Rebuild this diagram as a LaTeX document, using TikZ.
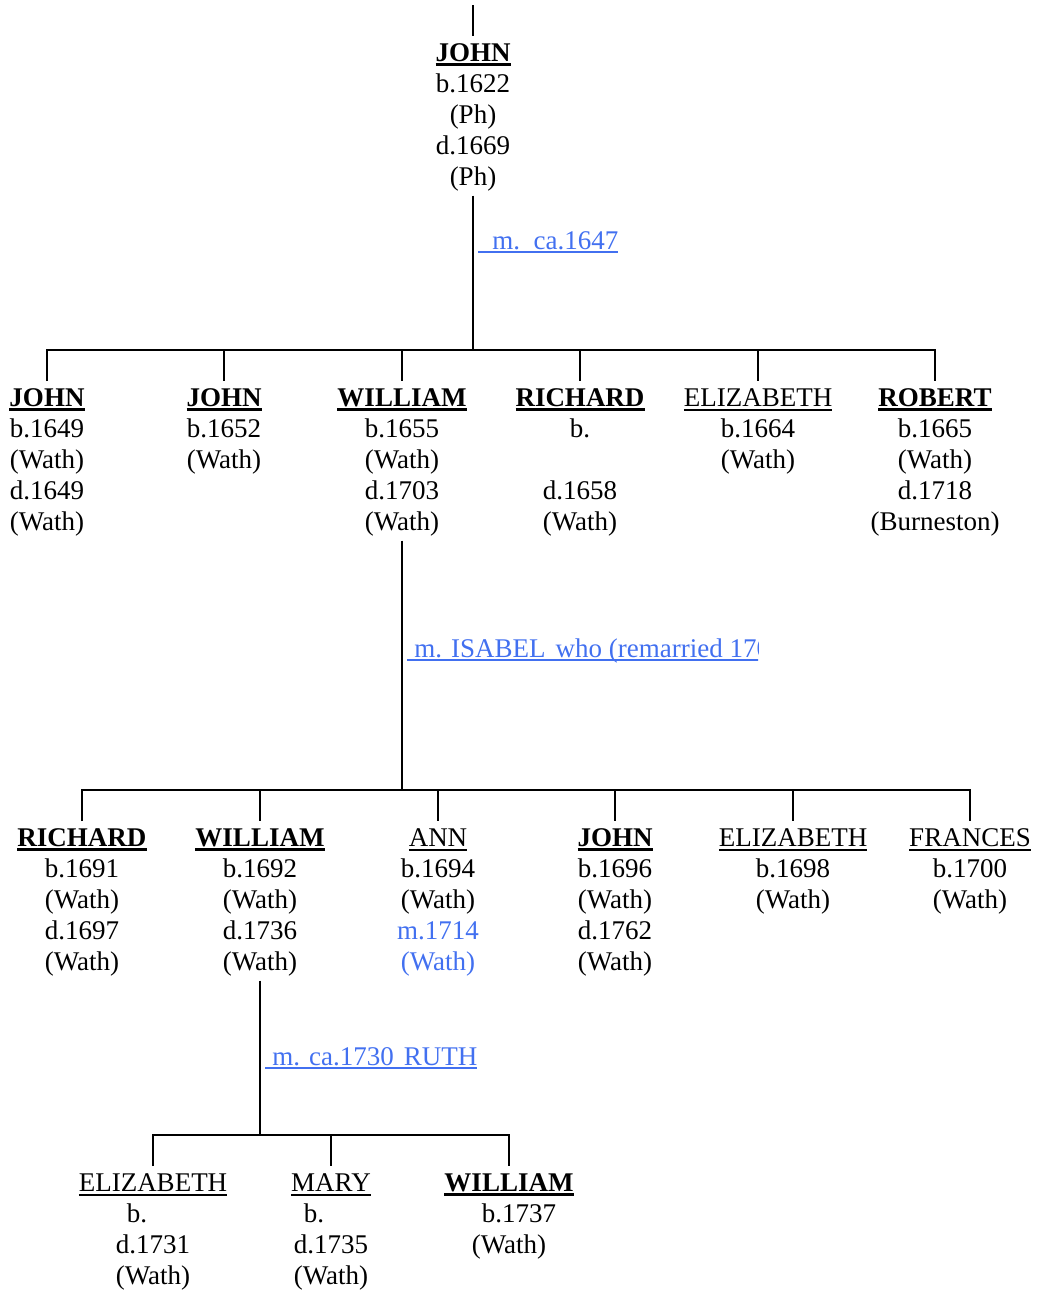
\documentclass[tikz,border=0pt]{standalone}
\usepackage{fontspec}
\setmainfont{Liberation Serif}
\usepackage{xcolor}
\usetikzlibrary{calc}
\definecolor{lblue}{RGB}{66,112,240}
\newcommand\nm[2][1pt]{\setbox0\hbox{#2}\rule{0pt}{10pt}\rlap{\rule[-2.2pt]{\wd0}{#1}}\box0}
\newcommand\bnm[1]{\nm[1.5pt]{\textbf{#1}}}
\newcommand\mrg[1]{{\color{lblue}\setbox0\hbox{#1}\rlap{\rule[-1.9pt]{\wd0}{.8pt}}\box0}}
\newcommand\blu[1]{{\color{lblue}#1}}
\tikzstyle{pers}=[anchor=north,inner sep=0pt,align=center,font=\fontsize{13.5}{15.5}\selectfont]
\tikzstyle{mlab}=[anchor=base west,inner sep=0pt,font=\fontsize{13.5}{15.5}\selectfont]
\tikzstyle{tree}=[line width=1.4pt]
\tikzstyle{drop}=[tree,shorten >=2.5pt]

\begin{document}
\begin{tikzpicture}[x=.5pt,y=-.5pt]
	\useasboundingbox (0,0) rectangle (1040,1290);
	\node[pers] (g1) at (473,41) {\bnm{JOHN}\\b.1622\\(Ph)\\d.1669\\(Ph)};
	\coordinate (top) at (473,5);
	\coordinate (b1) at (473,350);
	\coordinate (b2) at (402,790);
	\coordinate (b3) at (260,1135);
	\node[pers] (r2a) at (47,386)  {\bnm{JOHN}\\b.1649\\(Wath)\\d.1649\\(Wath)};
	\node[pers] (r2b) at (224,386) {\bnm{JOHN}\\b.1652\\(Wath)};
	\node[pers] (r2c) at (402,386) {\bnm{WILLIAM}\\b.1655\\(Wath)\\d.1703\\(Wath)};
	\node[pers] (r2d) at (580,386) {\bnm{RICHARD}\\b.\\\mbox{}\\d.1658\\(Wath)};
	\node[pers] (r2e) at (758,386) {\nm{ELIZABETH}\\b.1664\\(Wath)};
	\node[pers] (r2f) at (935,386) {\bnm{ROBERT}\\b.1665\\(Wath)\\d.1718\\(Burneston)};
	\node[pers] (r3a) at (82,826)  {\bnm{RICHARD}\\b.1691\\(Wath)\\d.1697\\(Wath)};
	\node[pers] (r3b) at (260,826) {\bnm{WILLIAM}\\b.1692\\(Wath)\\d.1736\\(Wath)};
	\node[pers] (r3c) at (438,826) {\nm{ANN}\\b.1694\\(Wath)\\\blu{m.1714}\\\blu{(Wath)}};
	\node[pers] (r3d) at (615,826) {\bnm{JOHN}\\b.1696\\(Wath)\\d.1762\\(Wath)};
	\node[pers] (r3e) at (793,826) {\nm{ELIZABETH}\\b.1698\\(Wath)};
	\node[pers] (r3f) at (970,826) {\nm{FRANCES}\\b.1700\\(Wath)};
	\node[pers] (r4a) at (153,1171) {\nm{ELIZABETH}\\b.\rule{16pt}{0pt}\\d.1731\\(Wath)};
	\node[pers] (r4b) at (331,1171) {\nm{MARY}\\b.\rule{17pt}{0pt}\\d.1735\\(Wath)};
	\node[pers] (r4c) at (509,1171) {\bnm{WILLIAM}\\\rule{10pt}{0pt}b.1737\\(Wath)};
	\node[mlab] (m1) at (478,249) {\mrg{\hspace*{7pt}m.\ \ ca.1647}};
	\begin{scope}
		\clip (400,600) rectangle (758,700);
		\node[mlab] (m2) at (407,657) {\mrg{\hspace*{3.5pt}m. ISABEL\hspace{5pt}who (remarried 170}};
	\end{scope}
	\node[mlab] (m3) at (265,1065) {\mrg{\hspace*{3.5pt}m. ca.1730\hspace{5pt}RUTH}};
	\draw[drop] (top) -- (g1.north);
	\draw[tree,shorten <=2pt] (g1.south) -- (b1);
	\draw[tree,shorten <=2pt] (r2c.south) -- (b2);
	\draw[tree,shorten <=2pt] (r3b.south) -- (b3);
	\draw[tree,shorten <=2.5pt,shorten >=2.5pt] (r2a.north) |- (b1) -| (r2f.north);
	\draw[tree,shorten <=2.5pt,shorten >=2.5pt] (r3a.north) |- (b2) -| (r3f.north);
	\draw[tree,shorten <=2.5pt,shorten >=2.5pt] (r4a.north) |- (b3) -| (r4c.north);
	\foreach \k in {b,c,d,e}
		\draw[drop] (b1 -| r2\k.north) -- (r2\k.north);
	\foreach \k in {b,c,d,e}
		\draw[drop] (b2 -| r3\k.north) -- (r3\k.north);
	\draw[drop] (b3 -| r4b.north) -- (r4b.north);
\end{tikzpicture}
\end{document}
